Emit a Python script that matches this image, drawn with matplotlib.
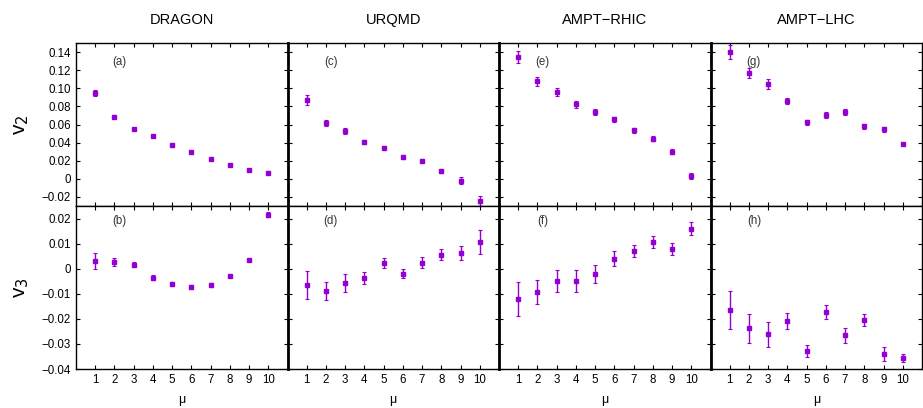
import numpy as np
import matplotlib
matplotlib.use('Agg')
import matplotlib.pyplot as plt

plt.rcParams['font.family'] = ['Liberation Sans', 'DejaVu Sans']

mu = np.arange(1, 11)
models = ['DRAGON', 'URQMD', 'AMPT\u2212RHIC', 'AMPT\u2212LHC']

# v2 values and errors per model
v2 = {
    'DRAGON': [0.0947, 0.0686, 0.0553, 0.0468, 0.0379, 0.0301, 0.0223, 0.0156, 0.0100, 0.0067],
    'URQMD': [0.0869, 0.0612, 0.0523, 0.0412, 0.0345, 0.0237, 0.0200, 0.0089, -0.0022, -0.0245],
    'AMPT\u2212RHIC': [0.1347, 0.1080, 0.0958, 0.0824, 0.0735, 0.0657, 0.0535, 0.0445, 0.0301, 0.0033],
    'AMPT\u2212LHC': [0.1403, 0.1169, 0.1047, 0.0857, 0.0624, 0.0702, 0.0735, 0.0579, 0.0546, 0.0385],
}
v2_err = {
    'DRAGON': [0.003, 0.0015, 0.0008, 0.0006, 0.0005, 0.0005, 0.0005, 0.0005, 0.0005, 0.0005],
    'URQMD': [0.0058, 0.0033, 0.0033, 0.0022, 0.002, 0.0015, 0.002, 0.002, 0.0037, 0.005],
    'AMPT\u2212RHIC': [0.007, 0.005, 0.0045, 0.004, 0.0035, 0.003, 0.003, 0.003, 0.0025, 0.003],
    'AMPT\u2212LHC': [0.008, 0.006, 0.0055, 0.0035, 0.003, 0.0035, 0.0035, 0.0025, 0.003, 0.0015],
}

# v3 values and errors per model
v3 = {
    'DRAGON': [0.0031, 0.0027, 0.0015, -0.0036, -0.0061, -0.0073, -0.0065, -0.0029, 0.0035, 0.0215],
    'URQMD': [-0.0065, -0.0089, -0.0057, -0.0037, 0.0023, -0.0021, 0.0023, 0.0055, 0.0063, 0.0107],
    'AMPT\u2212RHIC': [-0.0121, -0.0093, -0.0049, -0.0049, -0.0021, 0.0039, 0.0071, 0.0107, 0.0079, 0.0159],
    'AMPT\u2212LHC': [-0.0165, -0.0237, -0.0261, -0.0209, -0.0329, -0.0173, -0.0265, -0.0205, -0.0341, -0.0357],
}
v3_err = {
    'DRAGON': [0.0031, 0.0017, 0.001, 0.001, 0.0007, 0.0007, 0.0007, 0.0004, 0.0004, 0.001],
    'URQMD': [0.0054, 0.0034, 0.0034, 0.0025, 0.002, 0.0018, 0.0022, 0.0022, 0.0029, 0.0049],
    'AMPT\u2212RHIC': [0.0066, 0.0048, 0.0043, 0.0043, 0.0036, 0.003, 0.0025, 0.0023, 0.0024, 0.0026],
    'AMPT\u2212LHC': [0.0075, 0.0058, 0.005, 0.0033, 0.0025, 0.0029, 0.003, 0.0024, 0.0027, 0.0016],
}

top_labels = ['(a)', '(c)', '(e)', '(g)']
bot_labels = ['(b)', '(d)', '(f)', '(h)']

v2_ticks = [-0.02, 0, 0.02, 0.04, 0.06, 0.08, 0.10, 0.12, 0.14]
v2_ticklabels = ['\u22120.02', '0', '0.02', '0.04', '0.06', '0.08', '0.10', '0.12', '0.14']
v3_ticks = [-0.04, -0.03, -0.02, -0.01, 0, 0.01, 0.02]
v3_ticklabels = ['\u22120.04', '\u22120.03', '\u22120.02', '\u22120.01', '0', '0.01', '0.02']

col = '#9400d3'

fig, axes = plt.subplots(2, 4, figsize=(9.23, 4.08), dpi=100)
fig.subplots_adjust(left=76/923, right=922/923, top=1-43/408, bottom=1-369/408,
                    wspace=0, hspace=0)

for j, m in enumerate(models):
    for i in range(2):
        ax = axes[i, j]
        if i == 0:
            y, e, lab = v2[m], v2_err[m], top_labels[j]
            ax.set_ylim(-0.03, 0.15)
            ax.set_yticks(v2_ticks)
            ax.set_yticklabels(v2_ticklabels)
            ax.set_title(m, fontsize=10.5, pad=14)
            lab_y = 0.885
        else:
            y, e, lab = v3[m], v3_err[m], bot_labels[j]
            ax.set_ylim(-0.04, 0.025)
            ax.set_yticks(v3_ticks)
            ax.set_yticklabels(v3_ticklabels)
            ax.set_xlabel('\u03bc', fontsize=9, labelpad=6)
            lab_y = 0.905
        ax.errorbar(mu, y, yerr=e, fmt='s', color=col, ms=3, elinewidth=1,
                    capsize=1.2, capthick=0.8, ecolor=col)
        ax.set_xlim(0, 11)
        ax.set_xticks(mu)
        ax.tick_params(direction='in', top=True, right=True, length=3,
                       width=0.8, labelsize=8.3)
        if i == 0:
            ax.tick_params(labelbottom=False)
        for s in ax.spines.values():
            s.set_linewidth(1)
        if j > 0:
            ax.tick_params(labelleft=False)
            ax.spines['left'].set_linewidth(2)
        ax.text(0.205, lab_y, lab, transform=ax.transAxes, fontsize=8.3,
                color='#333333', ha='center', va='center')

axes[0, 0].set_ylabel('v$_2$', fontsize=15, labelpad=8)
axes[1, 0].set_ylabel('v$_3$', fontsize=15, labelpad=8)

fig.savefig('out.png', dpi=100)
